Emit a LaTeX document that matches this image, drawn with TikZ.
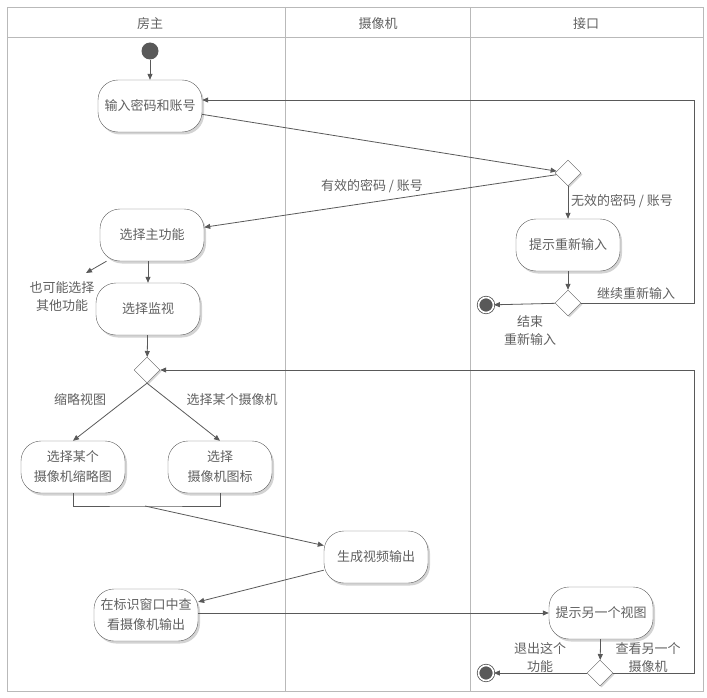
\documentclass[tikz,border=0pt]{standalone}
\usepackage{fontspec}
\setmainfont{Noto Sans CJK SC}
\usetikzlibrary{shapes.geometric, shadows, arrows.meta}

\begin{document}
\begin{tikzpicture}[
    x=1pt, y=-1pt,
    lane/.style={draw=gray!55, line width=0.9pt},
    act/.style={rectangle, rounded corners=20pt, draw=gray!75!black, fill=white, minimum width=104pt, minimum height=52pt, align=center, text=gray!75!black, font=\fontsize{13}{20}\selectfont, drop shadow={shadow xshift=2pt, shadow yshift=-2.5pt, opacity=0.35}},
    choice/.style={diamond, draw=gray!75!black, fill=white, minimum size=26pt, inner sep=0pt, drop shadow={shadow xshift=1.5pt, shadow yshift=-1.5pt, opacity=0.35}},
    startdot/.style={circle, fill=gray!70!black, minimum size=17pt, inner sep=0pt},
    endstate/.style={circle, draw=gray!70!black, fill=gray!70!black, double=white, double distance=1.6pt, line width=0.8pt, minimum size=15pt, inner sep=0pt},
    lbl/.style={align=center, text=gray!75!black, font=\fontsize{13}{18}\selectfont},
    arrow/.style={-{Triangle[length=6pt, width=5pt]}, draw=gray!70!black, line width=0.8pt},
    link/.style={draw=gray!70!black, line width=0.8pt}
]
\useasboundingbox (0,0) rectangle (707,698);

% Swimlanes
\draw[lane] (7,7) rectangle (703,691);
\draw[lane] (7,37) -- (703,37);
\draw[lane] (285,7) -- (285,691);
\draw[lane] (470,7) -- (470,691);
\node[lbl] (hdowner) at (150,24) {房主};
\node[lbl] (hdcam) at (378,24) {摄像机};
\node[lbl] (hdiface) at (586,24) {接口};

% Login
\node[startdot] (start) at (150,51) {};
\node[act] (login) at (150,106) {输入密码和账号};
\node[choice] (check) at (568,173) {};
\node[act] (mainfn) at (152,235) {选择主功能};
\node[act] (retry) at (568,245) {提示重新输入};
\node[choice] (again) at (568,303) {};
\node[endstate] (quit1) at (486,305) {};

% Monitor
\node[act] (monitor) at (148,309) {选择监视};
\node[choice] (mode) at (147,370) {};
\node[act] (thumb) at (73,467) {选择某个\\摄像机缩略图};
\node[act] (icon) at (220,467) {选择\\摄像机图标};
\node[act] (gen) at (376,557) {生成视频输出};
\node[act] (view) at (146,615) {在标识窗口中查\\看摄像机输出};
\node[act] (another) at (601,613) {提示另一个视图};
\node[choice] (more) at (600,673) {};
\node[endstate] (quit2) at (486,673) {};

% Labels
\node[lbl] (validlbl) at (372,186) {有效的密码 / 账号};
\node[lbl] (invalidlbl) at (622,201) {无效的密码 / 账号};
\node[lbl] (contlbl) at (636,294) {继续重新输入};
\node[lbl] (stoplbl) at (530,331) {结束\\重新输入};
\node[lbl] (otherlbl) at (62,297) {也可能选择\\其他功能};
\node[lbl] (thumblbl) at (80,400) {缩略视图};
\node[lbl] (iconlbl) at (232,400) {选择某个摄像机};
\node[lbl] (exitlbl) at (540,658) {退出这个\\功能};
\node[lbl] (morelbl) at (648,658) {查看另一个\\摄像机};

% Arrows
\draw[arrow] (start) -- (login);
\draw[arrow] (login) -- (check);
\draw[arrow] (check) -- (mainfn);
\draw[arrow] (check) -- (retry);
\draw[arrow] (retry) -- (again);
\draw[arrow] (again) -- (quit1);
\coordinate (alt) at (86,273);
\draw[arrow] (mainfn) -- (alt);
\draw[arrow] (mainfn.south -| monitor) -- (monitor);
\draw[arrow] (monitor) -- (mode);
\draw[arrow] (mode.south) -- (thumb.north);
\draw[arrow] (mode.south) -- (icon.north);
\coordinate (join) at (145,506);
\draw[link] (thumb.south) |- (join) -| (icon.south);
\draw[arrow] (join) -- (gen);
\draw[arrow] (gen) -- (view);
\draw[arrow] (view.east |- another) -- (another);
\draw[arrow] (another) -- (more);
\draw[arrow] (more) -- (quit2);

% Loops back
\coordinate (loopa) at (694,100);
\draw[arrow] (again.east) -| (loopa) -- (login.east |- loopa);
\coordinate (loopb) at (694,370);
\draw[arrow] (more.east) -| (loopb) -- (mode.east);

\end{tikzpicture}
\end{document}
